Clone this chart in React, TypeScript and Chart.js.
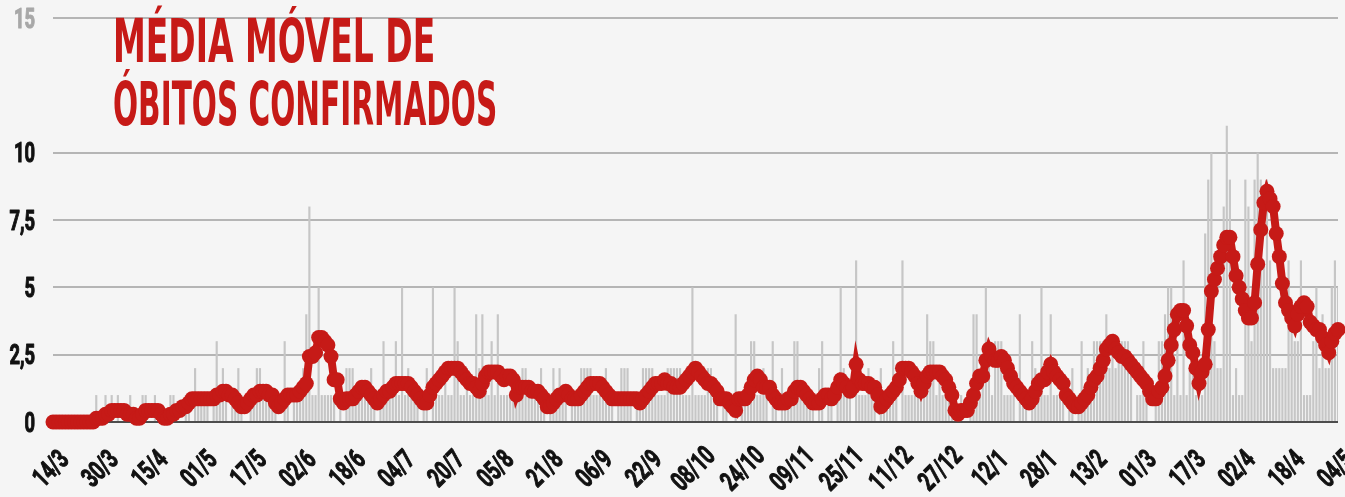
import React, { useEffect, useRef } from 'react';
import { Chart, registerables } from 'chart.js';

Chart.register(...registerables);

const DAY_COUNT = 417;
const LABEL_STEP = 16;
const Y_TICKS = [0, 2.5, 5, 7.5, 10, 15];
const TITLE_LINES = ['MÉDIA MÓVEL DE', 'ÓBITOS CONFIRMADOS'];

// 7-day moving average of confirmed deaths
const MOVING_AVG = [
  0, 0, 0, 0, 0, 0, 0, 0, 0, 0,
  0, 0, 0, 0, 0.14, 0.14, 0.14, 0.29, 0.29, 0.43,
  0.43, 0.43, 0.43, 0.43, 0.29, 0.29, 0.29, 0.14, 0.14, 0.29,
  0.43, 0.43, 0.43, 0.43, 0.43, 0.29, 0.14, 0.14, 0.29, 0.29,
  0.43, 0.43, 0.57, 0.57, 0.71, 0.86, 0.86, 0.86, 0.86, 0.86,
  0.86, 0.86, 0.86, 1, 1, 1.14, 1.14, 1, 1, 0.86,
  0.71, 0.57, 0.57, 0.71, 0.86, 1, 1, 1.14, 1.14, 1.14,
  1, 1, 0.71, 0.57, 0.71, 0.86, 1, 1, 1, 1,
  1.14, 1.29, 1.43, 2.43, 2.43, 2.57, 3.14, 3.14, 3, 2.86,
  2.43, 1.57, 1.57, 0.86, 0.71, 0.86, 0.86, 0.86, 1, 1.14,
  1.29, 1.29, 1.14, 1, 0.86, 0.71, 0.86, 1, 1.14, 1.14,
  1.29, 1.43, 1.43, 1.43, 1.43, 1.43, 1.29, 1.14, 1, 0.86,
  0.71, 0.71, 1, 1.29, 1.43, 1.57, 1.71, 1.86, 2, 2,
  2, 2, 1.86, 1.71, 1.57, 1.43, 1.43, 1.29, 1.14, 1.43,
  1.71, 1.86, 1.86, 1.86, 1.86, 1.71, 1.57, 1.71, 1.71, 1.57,
  1, 1.29, 1.29, 1.29, 1.29, 1.14, 1.14, 1.14, 1, 0.86,
  0.57, 0.57, 0.71, 0.86, 1, 1, 1.14, 1, 0.86, 0.86,
  0.86, 1, 1.14, 1.29, 1.43, 1.43, 1.43, 1.43, 1.29, 1.14,
  1, 0.86, 0.86, 0.86, 0.86, 0.86, 0.86, 0.86, 0.86, 0.86,
  0.71, 0.86, 1, 1.14, 1.29, 1.43, 1.43, 1.43, 1.57, 1.43,
  1.43, 1.29, 1.29, 1.29, 1.43, 1.57, 1.71, 1.86, 2, 1.86,
  1.71, 1.57, 1.43, 1.43, 1.29, 1.14, 0.86, 0.86, 0.86, 0.71,
  0.57, 0.43, 0.86, 0.86, 0.86, 1, 1.29, 1.57, 1.71, 1.57,
  1.29, 1.29, 1.29, 1, 0.86, 0.71, 0.71, 0.71, 0.86, 0.86,
  1.14, 1.29, 1.29, 1.14, 1, 0.86, 0.71, 0.71, 0.71, 0.86,
  1, 1, 0.86, 1, 1.29, 1.57, 1.43, 1.29, 1.14, 1.29,
  2.14, 1.57, 1.43, 1.43, 1.43, 1.29, 1.29, 1, 0.57, 0.71,
  0.86, 1, 1.14, 1.29, 1.57, 2, 2, 2, 1.86, 1.71,
  1.43, 1.14, 1.43, 1.71, 1.86, 1.86, 1.86, 1.86, 1.71, 1.57,
  1.29, 1, 0.43, 0.29, 0.43, 0.43, 0.43, 0.71, 1, 1.43,
  1.71, 1.71, 2.29, 2.71, 2.43, 2.29, 2.29, 2.43, 2.29, 2,
  1.71, 1.43, 1.29, 1.14, 1, 0.86, 0.71, 0.86, 1.14, 1.43,
  1.57, 1.57, 1.86, 2.14, 1.86, 1.71, 1.57, 1.43, 1, 0.86,
  0.71, 0.57, 0.57, 0.71, 0.86, 1, 1.29, 1.57, 1.71, 2,
  2.29, 2.71, 2.86, 3, 2.71, 2.57, 2.43, 2.43, 2.29, 2.14,
  2, 1.86, 1.71, 1.57, 1.43, 1.14, 0.86, 0.86, 1.14, 1.29,
  1.71, 2.29, 2.86, 3.43, 4, 4.14, 4.14, 3.57, 2.86, 2.57,
  2, 1.43, 1.86, 2.14, 3.43, 4.86, 5.29, 5.71, 6.14, 6.57,
  6.86, 6.86, 6.14, 5.43, 5, 4.57, 4.14, 3.86, 3.86, 4.43,
  5.86, 7.14, 8.14, 8.57, 8.29, 8, 7, 6.14, 5.14, 4.43,
  4.14, 3.86, 3.57, 4, 4.29, 4.43, 4.29, 3.71, 3.57, 3.43,
  3.43, 3.14, 2.86, 2.57, 3, 3.29, 3.43,
];

// daily confirmed deaths
const DAILY_DEATHS = [
  0, 0, 0, 0, 0, 0, 0, 0, 0, 0,
  0, 0, 0, 0, 1, 0, 0, 1, 0, 1,
  0, 1, 0, 0, 0, 1, 0, 0, 0, 1,
  1, 0, 0, 1, 0, 0, 0, 0, 1, 1,
  0, 0, 0, 1, 1, 0, 2, 1, 1, 1,
  1, 0, 1, 3, 1, 2, 1, 0, 1, 1,
  2, 1, 0, 0, 1, 1, 2, 2, 1, 1,
  1, 1, 1, 0, 0, 3, 1, 0, 1, 1,
  1, 2, 4, 8, 1, 1, 5, 1, 1, 1,
  1, 1, 0, 1, 0, 2, 2, 2, 1, 1,
  1, 1, 1, 2, 1, 0, 1, 3, 1, 1,
  1, 3, 1, 5, 1, 2, 1, 1, 1, 0,
  1, 2, 0, 5, 1, 1, 1, 2, 1, 1,
  5, 3, 1, 1, 2, 1, 1, 4, 2, 4,
  2, 1, 3, 1, 4, 1, 1, 1, 1, 1,
  1, 1, 2, 2, 1, 1, 1, 1, 2, 1,
  0, 1, 2, 1, 2, 1, 1, 0, 1, 1,
  1, 2, 2, 2, 2, 1, 1, 1, 1, 2,
  1, 1, 0, 1, 2, 2, 2, 1, 0, 1,
  1, 2, 2, 2, 2, 1, 1, 1, 1, 2,
  2, 2, 2, 2, 1, 1, 1, 5, 1, 1,
  1, 1, 2, 2, 1, 1, 0, 1, 1, 0,
  0, 4, 0, 1, 1, 1, 3, 3, 1, 1,
  2, 1, 0, 3, 1, 0, 2, 1, 1, 1,
  3, 3, 1, 1, 1, 1, 1, 0, 2, 3,
  0, 1, 1, 0, 1, 5, 2, 1, 1, 0,
  6, 1, 1, 1, 2, 1, 1, 0, 2, 1,
  1, 1, 3, 1, 0, 6, 1, 1, 1, 1,
  1, 1, 2, 4, 3, 3, 1, 2, 1, 1,
  1, 1, 0, 0, 1, 0, 0, 1, 4, 4,
  1, 2, 5, 3, 1, 3, 3, 3, 1, 1,
  1, 1, 0, 4, 1, 1, 0, 3, 2, 1,
  5, 1, 1, 4, 1, 1, 1, 1, 0, 1,
  2, 0, 1, 3, 1, 2, 1, 3, 3, 3,
  3, 4, 2, 3, 2, 3, 3, 3, 3, 2,
  0, 1, 1, 3, 1, 0, 0, 1, 3, 3,
  4, 5, 5, 1, 3, 1, 6, 1, 2, 2,
  1, 2, 1, 7, 9, 10, 3, 2, 2, 8,
  11, 9, 1, 2, 1, 1, 9, 8, 3, 9,
  10, 9, 6, 9, 6, 2, 2, 2, 2, 2,
  6, 4, 3, 3, 6, 1, 1, 1, 3, 5,
  2, 4, 2, 2, 5, 6, 5,
];

function buildDayLabels(): string[] {
  const out: string[] = [];
  const start = Date.UTC(2020, 2, 14);
  for (let i = 0; i < DAY_COUNT; i++) {
    const d = new Date(start + i * 86400000);
    out.push(String(d.getUTCDate()).padStart(2, '0') + '/' + (d.getUTCMonth() + 1));
  }
  return out;
}

const DAY_LABELS = buildDayLabels();
const TITLE_FONT = '"DejaVu Sans Condensed", "DejaVu Sans", sans-serif';
const TICK_FONT = 'Roboto, "Liberation Sans", sans-serif';
const TICK_SIZE = 27;
const TICK_SX = 0.68;
const TICK_CAP = 19;
const RED = '#c61a17';

// draws the library's tick labels in a condensed face
const condensedTicks = {
  id: 'condensedTicks',
  afterDraw(chart: any) {
    const ctx = chart.ctx as CanvasRenderingContext2D;
    const xs = chart.scales.x;
    const ys = chart.scales.y;
    const draw = (label: string, color: string) => {
      ctx.fillStyle = color;
      ctx.strokeStyle = color;
      ctx.lineWidth = 1.1;
      ctx.lineJoin = 'round';
      ctx.fillText(label, 0, TICK_CAP / 2);
      ctx.strokeText(label, 0, TICK_CAP / 2);
    };
    ctx.save();
    ctx.font = `bold ${TICK_SIZE}px ${TICK_FONT}`;
    ctx.textBaseline = 'alphabetic';
    ctx.textAlign = 'center';
    xs.ticks.forEach((t: any, i: number) => {
      if (i % LABEL_STEP !== 0) return;
      const label = xs.getLabelForValue(t.value);
      const px = xs.getPixelForTick(i);
      ctx.save();
      ctx.translate(px - 3, xs.top + 46);
      ctx.rotate(-Math.PI / 4);
      ctx.scale(TICK_SX, 1);
      draw(label, '#111');
      ctx.restore();
    });
    ctx.textAlign = 'right';
    ys.ticks.forEach((t: any) => {
      const py = ys.getPixelForValue(t.value);
      const label = String(t.value).replace('.', ',');
      ctx.save();
      ctx.translate(35, py);
      ctx.scale(TICK_SX, 1);
      draw(label, t.value === 15 ? '#a8a8a8' : '#111');
      ctx.restore();
    });
    ctx.restore();
  },
};

export default function App() {
  const canvasRef = useRef<HTMLCanvasElement | null>(null);
  const t1 = useRef<HTMLSpanElement | null>(null);
  const t2 = useRef<HTMLSpanElement | null>(null);

  useEffect(() => {
    const fit = (el: HTMLSpanElement | null, target: number) => {
      if (!el) return;
      const w = el.offsetWidth;
      if (w > 0) el.style.transform = `scaleX(${target / w})`;
    };
    fit(t1.current, 322);
    fit(t2.current, 384);

    const canvas = canvasRef.current!;
    const chart = new Chart(canvas, {
      type: 'bar',
      data: {
        labels: DAY_LABELS,
        datasets: [
          {
            type: 'line',
            data: MOVING_AVG,
            borderColor: RED,
            backgroundColor: RED,
            pointBackgroundColor: RED,
            pointBorderColor: RED,
            borderWidth: 8,
            pointRadius: 7.5,
            pointBorderWidth: 0,
            tension: 0,
            order: 1,
            clip: false,
          } as any,
          {
            type: 'bar',
            data: DAILY_DEATHS,
            backgroundColor: '#c6c6c6',
            barPercentage: 0.7,
            categoryPercentage: 1,
            order: 2,
          },
        ],
      },
      options: {
        responsive: false,
        animation: false,
        devicePixelRatio: 1,
        layout: { padding: { top: 18, right: 7, left: 0, bottom: 0 }, autoPadding: false },
        plugins: { legend: { display: false }, tooltip: { enabled: false }, title: { display: false } },
        scales: {
          x: {
            type: 'category',
            offset: false,
            grid: { display: false, drawTicks: false },
            border: { display: false },
            ticks: { display: false, autoSkip: false },
            afterFit: (s: any) => {
              s.height = 75;
              s.paddingLeft = 0;
              s.paddingRight = 0;
            },
          },
          y: {
            min: 0,
            max: 15,
            afterBuildTicks: (s: any) => {
              s.ticks = Y_TICKS.map((v) => ({ value: v }));
            },
            grid: {
              color: (ctx: any) => (ctx.tick && ctx.tick.value === 0 ? '#4d4d4d' : '#b5b5b5'),
              lineWidth: 2,
              drawTicks: false,
            },
            border: { display: false },
            ticks: { display: false },
            afterFit: (s: any) => {
              s.width = 53;
              s.paddingTop = 0;
              s.paddingBottom = 0;
            },
          },
        },
      } as any,
      plugins: [condensedTicks],
    });
    return () => chart.destroy();
  }, []);

  const titleStyle: React.CSSProperties = {
    position: 'absolute',
    left: 113,
    display: 'inline-block',
    fontFamily: TITLE_FONT,
    fontWeight: 'bold',
    fontSize: 61,
    lineHeight: '61px',
    color: RED,
    whiteSpace: 'nowrap',
    transformOrigin: 'left top',
  };

  return (
    <div style={{ position: 'fixed', left: 0, top: 0, width: 1345, height: 497, background: '#f5f5f5', overflow: 'hidden' }}>
      <canvas ref={canvasRef} width={1345} height={497} style={{ display: 'block', width: 1345, height: 497 }} />
      <span ref={t1} style={{ ...titleStyle, top: 10 }}>{TITLE_LINES[0]}</span>
      <span ref={t2} style={{ ...titleStyle, top: 73 }}>{TITLE_LINES[1]}</span>
    </div>
  );
}
